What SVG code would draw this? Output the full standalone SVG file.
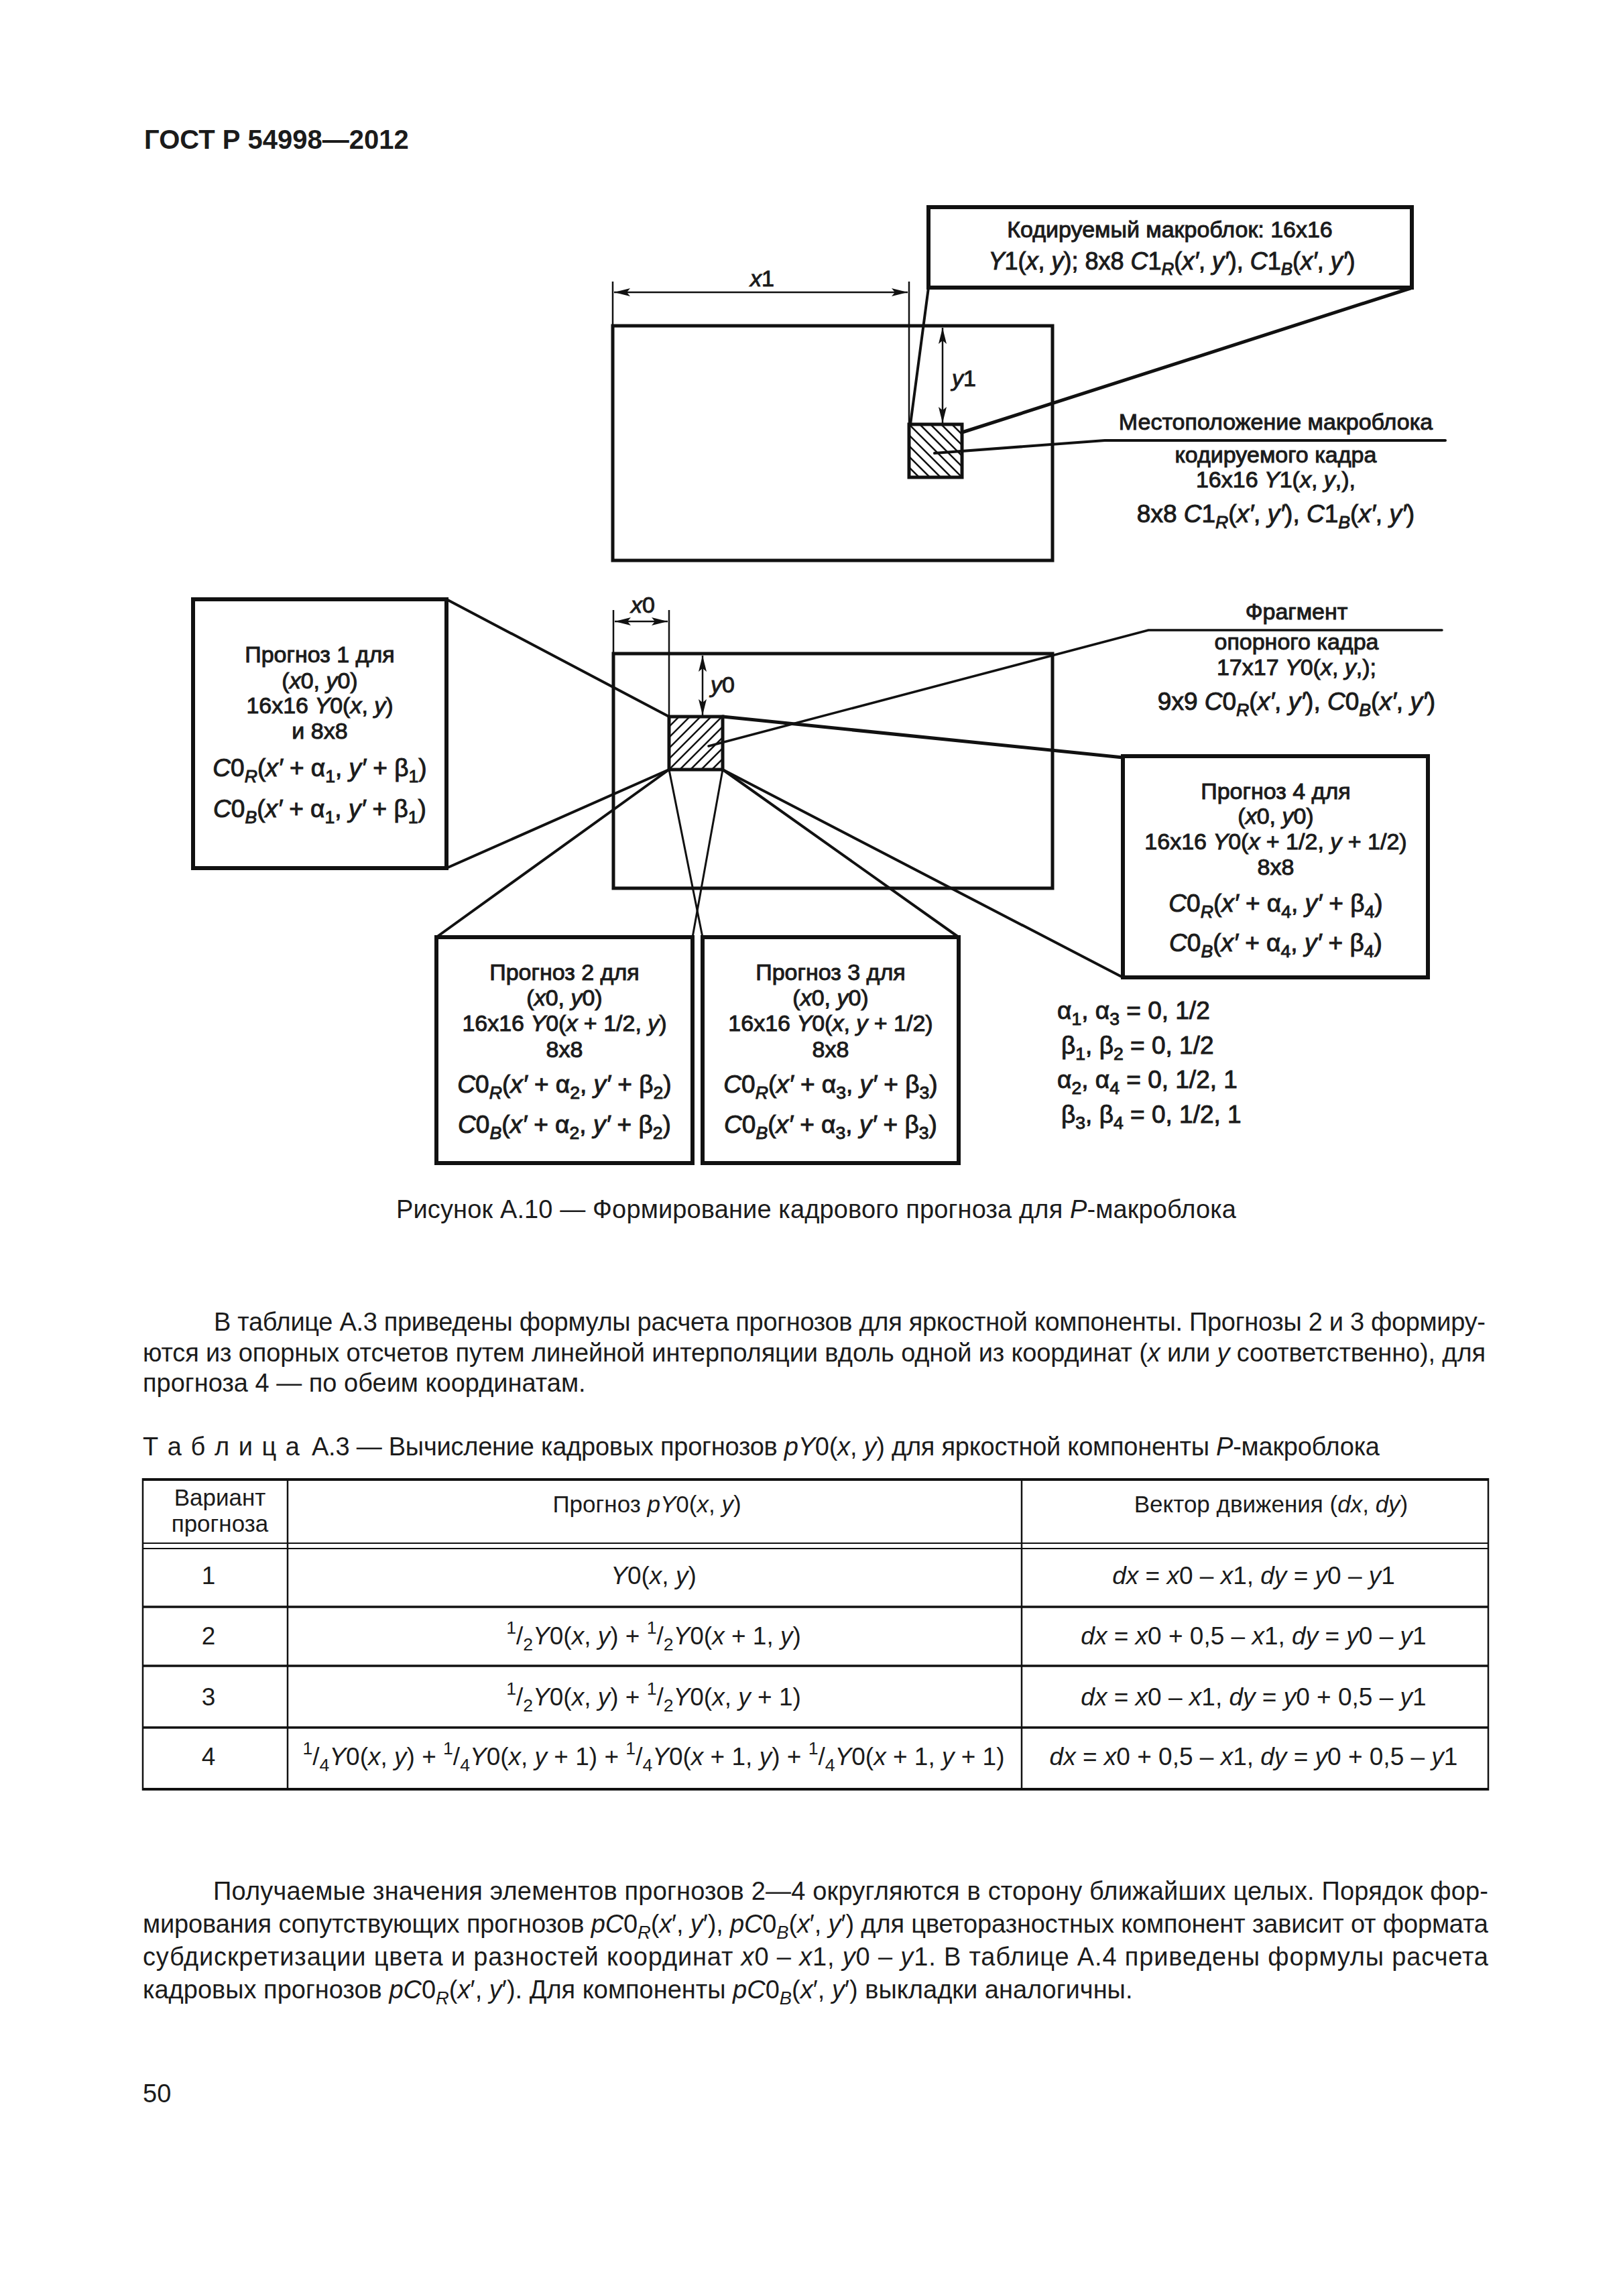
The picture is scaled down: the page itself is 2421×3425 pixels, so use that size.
<svg xmlns="http://www.w3.org/2000/svg" width="2421" height="3425" viewBox="0 0 2421 3425">
<style>
text{font-family:"Liberation Sans",Arial,sans-serif;fill:#1b1b1b}
.h{font-size:40px;font-weight:bold}
.d{font-size:34px;stroke:#1b1b1b;stroke-width:1px}
.f{font-size:37px;stroke:#1b1b1b;stroke-width:1px}
.b{font-size:38px}
.t{font-size:37px}
.th{font-size:35px}
.i{font-style:italic}
.s{font-size:72%;baseline-shift:-0.32em}
.p{font-size:72%;baseline-shift:0.6em}
.m{text-anchor:middle}
.box{fill:none;stroke:#111;stroke-width:6}
.frame{fill:none;stroke:#111;stroke-width:5}
.hatch{fill:none;stroke:#111;stroke-width:2.5}
</style>
<defs>
<marker id="ar" viewBox="0 0 24 12" refX="24" refY="6" markerWidth="24" markerHeight="12" markerUnits="userSpaceOnUse" orient="auto-start-reverse">
<path d="M0,0 L24,6 L0,12 L5,6 z" fill="#111"/>
</marker>
<clipPath id="c1"><rect x="1356" y="633" width="79" height="79"/></clipPath>
<clipPath id="c2"><rect x="998" y="1069" width="80" height="79"/></clipPath>
</defs>
<rect width="2421" height="3425" fill="#fff"/>

<text class="h" x="215" y="222">ГОСТ Р 54998—2012</text>

<!-- frames -->
<g id="frame-coded">
<rect class="frame" x="914" y="486" width="656" height="350"/>
</g>
<g id="frame-reference">
<rect class="frame" x="915" y="975" width="655" height="350"/>
</g>

<!-- macroblocks -->
<g id="macroblock-coded">
<path class="hatch" clip-path="url(#c1)" d="M1292,633L1371,712M1308,633L1387,712M1324,633L1403,712M1340,633L1419,712M1356,633L1435,712M1372,633L1451,712M1388,633L1467,712M1404,633L1483,712M1420,633L1499,712"/>
<rect x="1356" y="633" width="79" height="79" fill="none" stroke="#111" stroke-width="5"/>
</g>
<g id="macroblock-reference">
<path class="hatch" clip-path="url(#c2)" d="M934,1148L1014,1068M950,1148L1030,1068M966,1148L1046,1068M982,1148L1062,1068M998,1148L1078,1068M1014,1148L1094,1068M1030,1148L1110,1068M1046,1148L1126,1068M1062,1148L1142,1068"/>
<rect x="998" y="1069" width="80" height="79" fill="none" stroke="#111" stroke-width="5"/>
</g>

<!-- dimensions -->
<g id="dimensions" stroke="#111" stroke-width="2.5" fill="none">
<line x1="914" y1="420" x2="914" y2="486"/>
<line x1="1356" y1="420" x2="1356" y2="633"/>
<line x1="916" y1="436" x2="1354" y2="436" marker-start="url(#ar)" marker-end="url(#ar)"/>
<line x1="1406" y1="489" x2="1406" y2="631" marker-start="url(#ar)" marker-end="url(#ar)"/>
<line x1="915" y1="910" x2="915" y2="975"/>
<line x1="998" y1="910" x2="998" y2="1069"/>
<line x1="917" y1="927" x2="996" y2="927" marker-start="url(#ar)" marker-end="url(#ar)"/>
<line x1="1048" y1="978" x2="1048" y2="1067" marker-start="url(#ar)" marker-end="url(#ar)"/>
</g>
<text class="d" x="1137" y="427" text-anchor="middle"><tspan class="i">x</tspan>1</text>
<text class="d" x="1420" y="576"><tspan class="i">y</tspan>1</text>
<text class="d" x="959" y="914" text-anchor="middle"><tspan class="i">x</tspan>0</text>
<text class="d" x="1060" y="1033"><tspan class="i">y</tspan>0</text>

<!-- connectors -->
<g id="connectors" fill="none" stroke="#111" stroke-linecap="round">
<line x1="1385" y1="429" x2="1358" y2="633" stroke-width="4"/>
<line x1="2104" y1="430" x2="1435" y2="645" stroke-width="5"/>
<polyline points="1394,676 1648,657 2156,657" stroke-width="4"/>
<polyline points="1057,1113 1713,940 2151,940" stroke-width="3.5"/>
<line x1="666" y1="894" x2="998" y2="1069" stroke-width="4"/>
<line x1="666" y1="1295" x2="998" y2="1148" stroke-width="4"/>
<line x1="651" y1="1398" x2="998" y2="1148" stroke-width="4"/>
<line x1="1033" y1="1398" x2="1078" y2="1148" stroke-width="3"/>
<line x1="1048" y1="1398" x2="998" y2="1148" stroke-width="3"/>
<line x1="1430" y1="1398" x2="1078" y2="1148" stroke-width="4"/>
<line x1="1675" y1="1130" x2="1078" y2="1069" stroke-width="5"/>
<line x1="1675" y1="1458" x2="1078" y2="1148" stroke-width="4"/>
</g>

<!-- top callout -->
<g id="coded-macroblock-box">
<rect class="box" x="1385" y="309" width="721" height="120"/>
<text class="d m" x="1745" y="354">Кодируемый макроблок: 16x16</text>
<text class="d m" x="1748" y="402" style="font-size:36px"><tspan class="i">Y</tspan>1(<tspan class="i">x</tspan>, <tspan class="i">y</tspan>); 8x8 <tspan class="i">C</tspan>1<tspan class="s i">R</tspan>(<tspan class="i">x′</tspan>, <tspan class="i">y′</tspan>), <tspan class="i">C</tspan>1<tspan class="s i">B</tspan>(<tspan class="i">x′</tspan>, <tspan class="i">y′</tspan>)</text>
</g>

<g id="location-label">
<text class="d m" x="1903" y="641">Местоположение макроблока</text>
<text class="d m" x="1903" y="690">кодируемого кадра</text>
<text class="d m" x="1903" y="727">16x16 <tspan class="i">Y</tspan>1(<tspan class="i">x</tspan>, <tspan class="i">y</tspan>,),</text>
<text class="f m" x="1903" y="779">8x8 <tspan class="i">C</tspan>1<tspan class="s i">R</tspan>(<tspan class="i">x′</tspan>, <tspan class="i">y′</tspan>), <tspan class="i">C</tspan>1<tspan class="s i">B</tspan>(<tspan class="i">x′</tspan>, <tspan class="i">y′</tspan>)</text>
</g>

<g id="fragment-label">
<text class="d m" x="1934" y="924">Фрагмент</text>
<text class="d m" x="1934" y="969">опорного кадра</text>
<text class="d m" x="1934" y="1007">17x17 <tspan class="i">Y</tspan>0(<tspan class="i">x</tspan>, <tspan class="i">y</tspan>,);</text>
<text class="f m" x="1934" y="1059">9x9 <tspan class="i">C</tspan>0<tspan class="s i">R</tspan>(<tspan class="i">x′</tspan>, <tspan class="i">y′</tspan>), <tspan class="i">C</tspan>0<tspan class="s i">B</tspan>(<tspan class="i">x′</tspan>, <tspan class="i">y′</tspan>)</text>
</g>

<g id="prognoz-1">
<rect class="box" x="288" y="894" width="378" height="401"/>
<text class="d m" x="477" y="988">Прогноз 1 для</text>
<text class="d m" x="477" y="1027">(<tspan class="i">x</tspan>0, <tspan class="i">y</tspan>0)</text>
<text class="d m" x="477" y="1064">16x16 <tspan class="i">Y</tspan>0(<tspan class="i">x</tspan>, <tspan class="i">y</tspan>)</text>
<text class="d m" x="477" y="1102">и 8x8</text>
<text class="f m" x="477" y="1158"><tspan class="i">C</tspan>0<tspan class="s i">R</tspan>(<tspan class="i">x′</tspan> + α<tspan class="s">1</tspan>, <tspan class="i">y′</tspan> + β<tspan class="s">1</tspan>)</text>
<text class="f m" x="477" y="1219"><tspan class="i">C</tspan>0<tspan class="s i">B</tspan>(<tspan class="i">x′</tspan> + α<tspan class="s">1</tspan>, <tspan class="i">y′</tspan> + β<tspan class="s">1</tspan>)</text>
</g>

<g id="prognoz-2">
<rect class="box" x="651" y="1398" width="382" height="337"/>
<text class="d m" x="842" y="1462">Прогноз 2 для</text>
<text class="d m" x="842" y="1500">(<tspan class="i">x</tspan>0, <tspan class="i">y</tspan>0)</text>
<text class="d m" x="842" y="1538">16x16 <tspan class="i">Y</tspan>0(<tspan class="i">x</tspan> + 1/2, <tspan class="i">y</tspan>)</text>
<text class="d m" x="842" y="1577">8x8</text>
<text class="f m" x="842" y="1630"><tspan class="i">C</tspan>0<tspan class="s i">R</tspan>(<tspan class="i">x′</tspan> + α<tspan class="s">2</tspan>, <tspan class="i">y′</tspan> + β<tspan class="s">2</tspan>)</text>
<text class="f m" x="842" y="1690"><tspan class="i">C</tspan>0<tspan class="s i">B</tspan>(<tspan class="i">x′</tspan> + α<tspan class="s">2</tspan>, <tspan class="i">y′</tspan> + β<tspan class="s">2</tspan>)</text>
</g>

<g id="prognoz-3">
<rect class="box" x="1048" y="1398" width="382" height="337"/>
<text class="d m" x="1239" y="1462">Прогноз 3 для</text>
<text class="d m" x="1239" y="1500">(<tspan class="i">x</tspan>0, <tspan class="i">y</tspan>0)</text>
<text class="d m" x="1239" y="1538">16x16 <tspan class="i">Y</tspan>0(<tspan class="i">x</tspan>, <tspan class="i">y</tspan> + 1/2)</text>
<text class="d m" x="1239" y="1577">8x8</text>
<text class="f m" x="1239" y="1630"><tspan class="i">C</tspan>0<tspan class="s i">R</tspan>(<tspan class="i">x′</tspan> + α<tspan class="s">3</tspan>, <tspan class="i">y′</tspan> + β<tspan class="s">3</tspan>)</text>
<text class="f m" x="1239" y="1690"><tspan class="i">C</tspan>0<tspan class="s i">B</tspan>(<tspan class="i">x′</tspan> + α<tspan class="s">3</tspan>, <tspan class="i">y′</tspan> + β<tspan class="s">3</tspan>)</text>
</g>

<g id="prognoz-4">
<rect class="box" x="1675" y="1128" width="455" height="330"/>
<text class="d m" x="1903" y="1192">Прогноз 4 для</text>
<text class="d m" x="1903" y="1229">(<tspan class="i">x</tspan>0, <tspan class="i">y</tspan>0)</text>
<text class="d m" x="1903" y="1267">16x16 <tspan class="i">Y</tspan>0(<tspan class="i">x</tspan> + 1/2, <tspan class="i">y</tspan> + 1/2)</text>
<text class="d m" x="1903" y="1305">8x8</text>
<text class="f m" x="1903" y="1360"><tspan class="i">C</tspan>0<tspan class="s i">R</tspan>(<tspan class="i">x′</tspan> + α<tspan class="s">4</tspan>, <tspan class="i">y′</tspan> + β<tspan class="s">4</tspan>)</text>
<text class="f m" x="1903" y="1419"><tspan class="i">C</tspan>0<tspan class="s i">B</tspan>(<tspan class="i">x′</tspan> + α<tspan class="s">4</tspan>, <tspan class="i">y′</tspan> + β<tspan class="s">4</tspan>)</text>
</g>

<g id="coefficients">
<text class="f" x="1577" y="1520">α<tspan class="s">1</tspan>, α<tspan class="s">3</tspan> = 0, 1/2</text>
<text class="f" x="1583" y="1572">β<tspan class="s">1</tspan>, β<tspan class="s">2</tspan> = 0, 1/2</text>
<text class="f" x="1577" y="1623">α<tspan class="s">2</tspan>, α<tspan class="s">4</tspan> = 0, 1/2, 1</text>
<text class="f" x="1583" y="1675">β<tspan class="s">3</tspan>, β<tspan class="s">4</tspan> = 0, 1/2, 1</text>
</g>

<text class="b" x="591" y="1817" textLength="1253" lengthAdjust="spacing">Рисунок А.10 — Формирование кадрового прогноза для <tspan class="i">P</tspan>-макроблока</text>

<g id="paragraph-1">
<text class="b" x="319" y="1985" textLength="1897" lengthAdjust="spacing">В таблице А.3 приведены формулы расчета прогнозов для яркостной компоненты. Прогнозы 2 и 3 формиру-</text>
<text class="b" x="213" y="2031" textLength="2003" lengthAdjust="spacing">ются из опорных отсчетов путем линейной интерполяции вдоль одной из координат (<tspan class="i">x</tspan> или <tspan class="i">y</tspan> соответственно), для</text>
<text class="b" x="213" y="2076">прогноза 4 — по обеим координатам.</text>
</g>

<g id="table-caption">
<text class="b" x="213" y="2171" textLength="234" lengthAdjust="spacing">Т а б л и ц а</text>
<text class="b" x="465" y="2171" textLength="1593" lengthAdjust="spacing">А.3 — Вычисление кадровых прогнозов <tspan class="i">pY</tspan>0(<tspan class="i">x</tspan>, <tspan class="i">y</tspan>) для яркостной компоненты <tspan class="i">P</tspan>-макроблока</text>
</g>

<g id="table">
<g stroke="#111" fill="none">
<line x1="213" y1="2207" x2="2220" y2="2207" stroke-width="4"/>
<line x1="213" y1="2302" x2="2220" y2="2302" stroke-width="2"/>
<line x1="213" y1="2310" x2="2220" y2="2310" stroke-width="2"/>
<line x1="213" y1="2397" x2="2220" y2="2397" stroke-width="3.5"/>
<line x1="213" y1="2485" x2="2220" y2="2485" stroke-width="3.5"/>
<line x1="213" y1="2577" x2="2220" y2="2577" stroke-width="3.5"/>
<line x1="213" y1="2669" x2="2220" y2="2669" stroke-width="4"/>
<line x1="213" y1="2205" x2="213" y2="2671" stroke-width="2.5"/>
<line x1="429" y1="2205" x2="429" y2="2671" stroke-width="2.5"/>
<line x1="1524" y1="2205" x2="1524" y2="2671" stroke-width="2.5"/>
<line x1="2220" y1="2205" x2="2220" y2="2671" stroke-width="2.5"/>
</g>
<text class="th m" x="328" y="2246">Вариант</text>
<text class="th m" x="328" y="2285">прогноза</text>
<text class="th m" x="965" y="2256">Прогноз <tspan class="i">pY</tspan>0(<tspan class="i">x</tspan>, <tspan class="i">y</tspan>)</text>
<text class="th m" x="1896" y="2256">Вектор движения (<tspan class="i">dx</tspan>, <tspan class="i">dy</tspan>)</text>

<text class="t m" x="311" y="2363">1</text>
<text class="t m" x="311" y="2453">2</text>
<text class="t m" x="311" y="2544">3</text>
<text class="t m" x="311" y="2633">4</text>

<text class="t m" x="975" y="2363"><tspan class="i">Y</tspan>0(<tspan class="i">x</tspan>, <tspan class="i">y</tspan>)</text>
<text class="t m" x="975" y="2453"><tspan class="p">1</tspan>/<tspan class="s">2</tspan><tspan class="i">Y</tspan>0(<tspan class="i">x</tspan>, <tspan class="i">y</tspan>) + <tspan class="p">1</tspan>/<tspan class="s">2</tspan><tspan class="i">Y</tspan>0(<tspan class="i">x</tspan> + 1, <tspan class="i">y</tspan>)</text>
<text class="t m" x="975" y="2544"><tspan class="p">1</tspan>/<tspan class="s">2</tspan><tspan class="i">Y</tspan>0(<tspan class="i">x</tspan>, <tspan class="i">y</tspan>) + <tspan class="p">1</tspan>/<tspan class="s">2</tspan><tspan class="i">Y</tspan>0(<tspan class="i">x</tspan>, <tspan class="i">y</tspan> + 1)</text>
<text class="t m" x="975" y="2633"><tspan class="p">1</tspan>/<tspan class="s">4</tspan><tspan class="i">Y</tspan>0(<tspan class="i">x</tspan>, <tspan class="i">y</tspan>) + <tspan class="p">1</tspan>/<tspan class="s">4</tspan><tspan class="i">Y</tspan>0(<tspan class="i">x</tspan>, <tspan class="i">y</tspan> + 1) + <tspan class="p">1</tspan>/<tspan class="s">4</tspan><tspan class="i">Y</tspan>0(<tspan class="i">x</tspan> + 1, <tspan class="i">y</tspan>) + <tspan class="p">1</tspan>/<tspan class="s">4</tspan><tspan class="i">Y</tspan>0(<tspan class="i">x</tspan> + 1, <tspan class="i">y</tspan> + 1)</text>

<text class="t m" x="1870" y="2363"><tspan class="i">dx</tspan> = <tspan class="i">x</tspan>0 – <tspan class="i">x</tspan>1, <tspan class="i">dy</tspan> = <tspan class="i">y</tspan>0 – <tspan class="i">y</tspan>1</text>
<text class="t m" x="1870" y="2453"><tspan class="i">dx</tspan> = <tspan class="i">x</tspan>0 + 0,5 – <tspan class="i">x</tspan>1, <tspan class="i">dy</tspan> = <tspan class="i">y</tspan>0 – <tspan class="i">y</tspan>1</text>
<text class="t m" x="1870" y="2544"><tspan class="i">dx</tspan> = <tspan class="i">x</tspan>0 – <tspan class="i">x</tspan>1, <tspan class="i">dy</tspan> = <tspan class="i">y</tspan>0 + 0,5 – <tspan class="i">y</tspan>1</text>
<text class="t m" x="1870" y="2633"><tspan class="i">dx</tspan> = <tspan class="i">x</tspan>0 + 0,5 – <tspan class="i">x</tspan>1, <tspan class="i">dy</tspan> = <tspan class="i">y</tspan>0 + 0,5 – <tspan class="i">y</tspan>1</text>
</g>

<g id="paragraph-2">
<text class="b" x="318" y="2834" textLength="1902" lengthAdjust="spacing">Получаемые значения элементов прогнозов 2—4 округляются в сторону ближайших целых. Порядок фор-</text>
<text class="b" x="213" y="2883" textLength="2007" lengthAdjust="spacing">мирования сопутствующих прогнозов <tspan class="i">pC</tspan>0<tspan class="s i">R</tspan>(<tspan class="i">x</tspan>′, <tspan class="i">y</tspan>′), <tspan class="i">pC</tspan>0<tspan class="s i">B</tspan>(<tspan class="i">x</tspan>′, <tspan class="i">y</tspan>′) для цветоразностных компонент зависит от формата</text>
<text class="b" x="213" y="2932" textLength="2007" lengthAdjust="spacing">субдискретизации цвета и разностей координат <tspan class="i">x</tspan>0 – <tspan class="i">x</tspan>1, <tspan class="i">y</tspan>0 – <tspan class="i">y</tspan>1. В таблице А.4 приведены формулы расчета</text>
<text class="b" x="213" y="2981">кадровых прогнозов <tspan class="i">pC</tspan>0<tspan class="s i">R</tspan>(<tspan class="i">x</tspan>′, <tspan class="i">y</tspan>′). Для компоненты <tspan class="i">pC</tspan>0<tspan class="s i">B</tspan>(<tspan class="i">x</tspan>′, <tspan class="i">y</tspan>′) выкладки аналогичны.</text>
</g>

<text class="b" x="213" y="3136">50</text>
</svg>
